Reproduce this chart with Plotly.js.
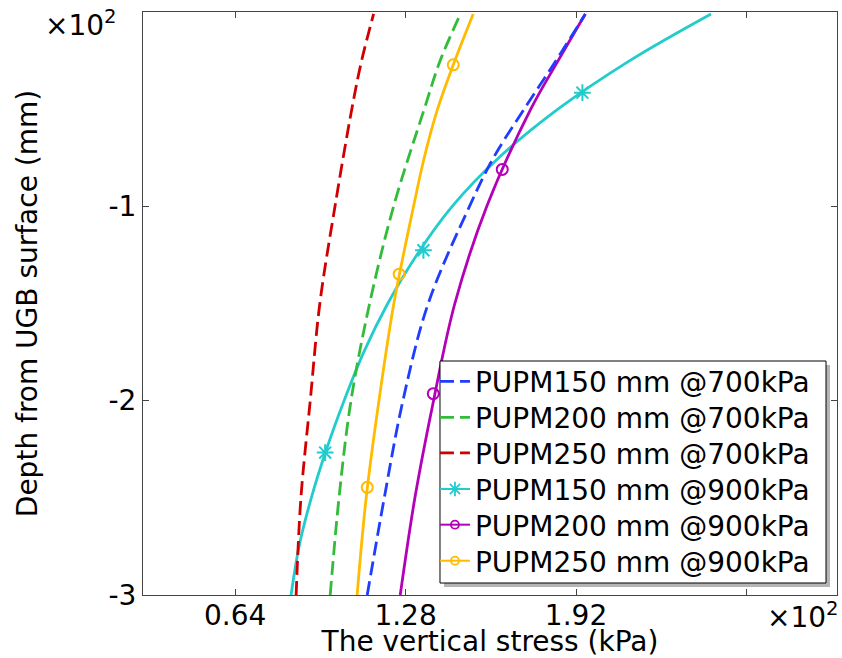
<!DOCTYPE html>
<html>
<head>
<meta charset="utf-8">
<script src="https://cdn.plot.ly/plotly-3.0.1.min.js"></script>
<style>html,body{margin:0;padding:0;background:#fff;}#chart{width:842px;height:658px;}</style>
</head>
<body>
<div id="chart"></div>
<script>
// Tick labels (axis values in kPa and mm, shown as x10^2)
const xTickVals = [64, 128, 192, 256];
const xTickText = ['0.64', '1.28', '1.92', ''];
const yTickVals = [-100, -200, -300];
const yTickText = ['-1', '-2', '-3'];

const seriesNames = ['PUPM150 mm @700kPa', 'PUPM200 mm @700kPa', 'PUPM250 mm @700kPa',
                     'PUPM150 mm @900kPa', 'PUPM200 mm @900kPa', 'PUPM250 mm @900kPa'];

// PUPM150 mm @700kPa
const p150_700_stress = [113.6, 120, 127, 136.5, 152, 161, 172.5, 184.5, 195.5];
const p150_700_depth  = [-300, -250, -200, -150, -100, -75, -50, -25, -1];
// PUPM200 mm @700kPa
const p200_700_stress = [99.7, 103, 107.5, 114.5, 123.5, 135, 141, 148.6];
const p200_700_depth  = [-300, -250, -200, -150, -100, -50, -25, -1];
// PUPM250 mm @700kPa
const p250_700_stress = [86.9, 88.7, 92.2, 95.8, 101.5, 107.8, 111.5, 116];
const p250_700_depth  = [-300, -250, -200, -150, -100, -50, -25, -1];
// PUPM150 mm @900kPa
const p150_900_stress = [85, 88, 92.6, 98.3, 104.9, 112.3, 121.3, 132.2, 145.5, 163, 185.2, 212.2, 242.7];
const p150_900_depth  = [-300, -275, -250, -225, -200, -175, -150, -125, -100, -75, -50, -25, -1];
// PUPM200 mm @900kPa
const p200_900_stress = [126, 131.5, 138.5, 146.5, 158.5, 175, 185.3, 195.5];
const p200_900_depth  = [-300, -250, -200, -150, -100, -50, -25, -1];
// PUPM250 mm @900kPa
const p250_900_stress = [109.8, 113.2, 118, 123.6, 131, 135, 140, 146.5, 153.4];
const p250_900_depth  = [-300, -250, -200, -150, -100, -75, -50, -25, -1];

// Marker points on the @900kPa curves
const p150_900_mk_stress = [194.4, 134.7, 97.8];
const p150_900_mk_depth  = [-41.5, -122.6, -226.7];
const p200_900_mk_stress = [164.3, 138.4];
const p200_900_mk_depth  = [-81, -196.4];
const p250_900_mk_stress = [145.9, 125.6, 113.6];
const p250_900_mk_depth  = [-27.2, -134.9, -244.6];

const colors = ['#1f3dff', '#33bb3a', '#d00000', '#22cccc', '#b400b8', '#ffbb00'];
const FONT = 'DejaVu Sans, Liberation Sans, sans-serif';
const FS = 28;
const DASH = '14px,6px';
const legendIds = ['legend', 'legend2', 'legend3', 'legend4', 'legend5', 'legend6'];

function dashed(x, y, i) {
  return {x: x, y: y, type: 'scatter', mode: 'lines', name: seriesNames[i], legend: legendIds[i],
    line: {color: colors[i], width: 2.8, dash: DASH, shape: 'spline'}};
}
function solidLine(x, y, i) {
  return {x: x, y: y, type: 'scatter', mode: 'lines', showlegend: false,
    line: {color: colors[i], width: 2.8, shape: 'spline'}, hoverinfo: 'skip'};
}
function marks(x, y, i, sym, sz) {
  return {x: x, y: y, type: 'scatter', mode: 'markers', showlegend: false,
    marker: {symbol: sym, size: sz, color: colors[i], line: {color: colors[i], width: 2}}};
}
function legendProxy(i, sym, sz) {
  return {x: [null], y: [null], type: 'scatter', mode: 'lines+markers', name: seriesNames[i],
    legend: legendIds[i], line: {color: colors[i], width: 2},
    marker: {symbol: sym, size: sz, color: colors[i], line: {color: colors[i], width: 1.8}}};
}

const data = [
  solidLine(p150_900_stress, p150_900_depth, 3),
  solidLine(p200_900_stress, p200_900_depth, 4),
  solidLine(p250_900_stress, p250_900_depth, 5),
  marks(p150_900_mk_stress, p150_900_mk_depth, 3, 'asterisk-open', 14),
  marks(p200_900_mk_stress, p200_900_mk_depth, 4, 'circle-open', 11),
  marks(p250_900_mk_stress, p250_900_mk_depth, 5, 'circle-open', 11),
  dashed(p150_700_stress, p150_700_depth, 0),
  dashed(p200_700_stress, p200_700_depth, 1),
  dashed(p250_700_stress, p250_700_depth, 2),
  legendProxy(3, 'asterisk-open', 12),
  legendProxy(4, 'circle-open', 8),
  legendProxy(5, 'circle-open', 8)
];

const axisCommon = {
  showline: true, linecolor: '#444', linewidth: 1, mirror: 'ticks',
  ticks: 'inside', ticklen: 6, tickcolor: '#444', tickwidth: 1,
  showgrid: false, zeroline: false,
  tickfont: {family: FONT, size: FS, color: '#000'}
};

// legend row placement (paper y of each row centre)
const legendRowY = [0.3659, 0.3041, 0.2431, 0.1813, 0.1201, 0.0583];

const layout = {
  width: 842, height: 658,
  margin: {l: 143, r: 5, t: 12, b: 63},
  paper_bgcolor: '#fff', plot_bgcolor: '#fff',
  font: {family: FONT, color: '#000'},
  xaxis: Object.assign({}, axisCommon, {
    range: [29.4, 290], tickmode: 'array', tickvals: xTickVals, ticktext: xTickText,
    ticklabelstandoff: -5,
    title: {text: 'The vertical stress (kPa)', font: {family: FONT, size: FS, color: '#000'}, standoff: 4}
  }),
  yaxis: Object.assign({}, axisCommon, {
    range: [-300, 0], tickmode: 'array', tickvals: yTickVals, ticktext: yTickText,
    title: {text: 'Depth from UGB surface (mm)', font: {family: FONT, size: FS, color: '#000'}, standoff: 62}
  }),
  shapes: [
    {type: 'rect', xref: 'paper', yref: 'paper', layer: 'above',
     x0: 0.4337, x1: 0.9899, y0: 0.0137, y1: 0.3945,
     fillcolor: '#b5b5b5', line: {width: 0}},
    {type: 'rect', xref: 'paper', yref: 'paper', layer: 'above',
     x0: 0.42795, x1: 0.98415, y0: 0.02058, y1: 0.40137,
     fillcolor: '#fff', line: {color: '#000', width: 1}}
  ],
  annotations: [
    {xref: 'paper', yref: 'paper', x: -0.0893, y: 0.98, xanchor: 'center', yanchor: 'middle', showarrow: false,
     text: '×10<sup>2</sup>', font: {family: FONT, size: FS, color: '#000'}},
    {xref: 'paper', yref: 'paper', x: 0.951, y: -0.035, xanchor: 'center', yanchor: 'middle', showarrow: false,
     text: '×10<sup>2</sup>', font: {family: FONT, size: FS, color: '#000'}}
  ]
};

legendIds.forEach(function (id, k) {
  layout[id] = {
    x: 0.4207, y: legendRowY[k], xanchor: 'left', yanchor: 'middle',
    bgcolor: 'rgba(0,0,0,0)', borderwidth: 0,
    font: {family: FONT, size: FS, color: '#000'},
    itemwidth: 30
  };
});

Plotly.newPlot('chart', data, layout, {displayModeBar: false, staticPlot: true});
</script>
</body>
</html>
